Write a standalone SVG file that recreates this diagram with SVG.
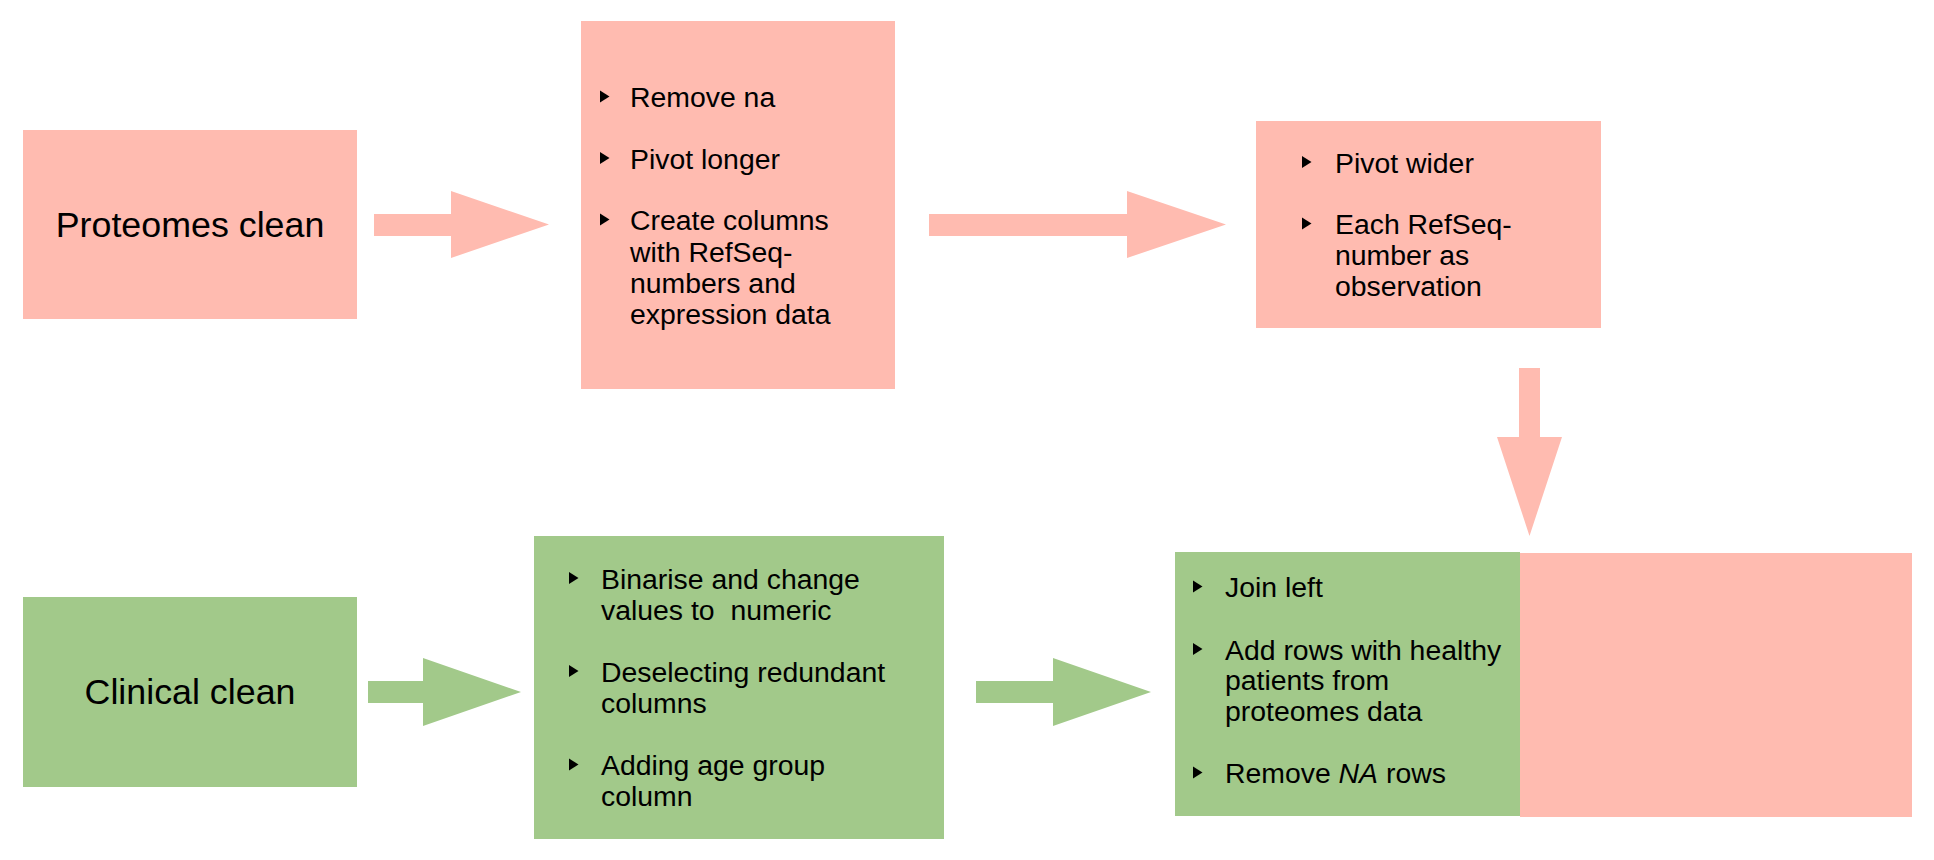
<svg xmlns="http://www.w3.org/2000/svg" width="1934" height="860" viewBox="0 0 1934 860">
<defs>
<style>
.pink{fill:#FFBBB0}
.green{fill:#A2C98A}
.title{font-family:"Liberation Sans",Arial,Helvetica,sans-serif;font-size:35.8px;fill:#000;text-anchor:middle}
.item{font-family:"Liberation Sans",Arial,Helvetica,sans-serif;font-size:28.4px;fill:#000}
.bul{fill:#000}
</style>
<polygon id="b" points="0,-16.5 9.5,-10.5 0,-4.5"/>
</defs>
<rect width="1934" height="860" fill="#fff"/>
<g id="connectors">
<polygon class="pink" points="374,214 451,214 451,191 549,224.5 451,258 451,236 374,236"/>
<polygon class="pink" points="929,214 1127,214 1127,191 1226,224.5 1127,258 1127,236 929,236"/>
<polygon class="pink" points="1519,368 1540,368 1540,437 1562,437 1529.5,536 1497,437 1519,437"/>
<polygon class="green" points="368,681 423,681 423,658 521,692 423,726 423,703 368,703"/>
<polygon class="green" points="976,681 1053,681 1053,658 1151,692 1053,726 1053,703 976,703"/>
</g>
<g id="proteomes">
<rect class="pink" x="23" y="130" width="334" height="189"/>
<text class="title" x="190" y="237">Proteomes clean</text>
</g>
<g id="proteomes-steps">
<rect class="pink" x="581" y="21" width="314" height="368"/>
<use class="bul" href="#b" x="600" y="107"/>
<use class="bul" href="#b" x="600" y="168.5"/>
<use class="bul" href="#b" x="600" y="230"/>
<text class="item" x="630" y="107">Remove na</text>
<text class="item" x="630" y="168.5">Pivot longer</text>
<text class="item" x="630" y="230">Create columns</text>
<text class="item" x="630" y="261.5">with RefSeq-</text>
<text class="item" x="630" y="292.5">numbers and</text>
<text class="item" x="630" y="323.5">expression data</text>
</g>
<g id="pivot">
<rect class="pink" x="1256" y="121" width="345" height="207"/>
<use class="bul" href="#b" x="1302" y="172.5"/>
<use class="bul" href="#b" x="1302" y="234"/>
<text class="item" x="1335" y="172.5">Pivot wider</text>
<text class="item" x="1335" y="234">Each RefSeq-</text>
<text class="item" x="1335" y="265">number as</text>
<text class="item" x="1335" y="296">observation</text>
</g>
<g id="clinical">
<rect class="green" x="23" y="597" width="334" height="190"/>
<text class="title" x="190" y="704">Clinical clean</text>
</g>
<g id="clinical-steps">
<rect class="green" x="534" y="536" width="410" height="303"/>
<use class="bul" href="#b" x="569" y="588.5"/>
<use class="bul" href="#b" x="569" y="681.5"/>
<use class="bul" href="#b" x="569" y="775"/>
<text class="item" x="601" y="588.5">Binarise and change</text>
<text class="item" x="601" y="619.5" style="white-space:pre">values to  numeric</text>
<text class="item" x="601" y="681.5">Deselecting redundant</text>
<text class="item" x="601" y="712.5">columns</text>
<text class="item" x="601" y="775">Adding age group</text>
<text class="item" x="601" y="806">column</text>
</g>
<g id="joined">
<rect class="pink" x="1520" y="553" width="392" height="264"/>
<rect class="green" x="1175" y="552" width="345" height="264"/>
<use class="bul" href="#b" x="1193" y="597"/>
<use class="bul" href="#b" x="1193" y="659.5"/>
<use class="bul" href="#b" x="1193" y="783"/>
<text class="item" x="1225" y="597">Join left</text>
<text class="item" x="1225" y="659.5">Add rows with healthy</text>
<text class="item" x="1225" y="689.5">patients from</text>
<text class="item" x="1225" y="720.5">proteomes data</text>
<text class="item" x="1225" y="783">Remove <tspan font-style="italic">NA</tspan> rows</text>
</g>
</svg>
